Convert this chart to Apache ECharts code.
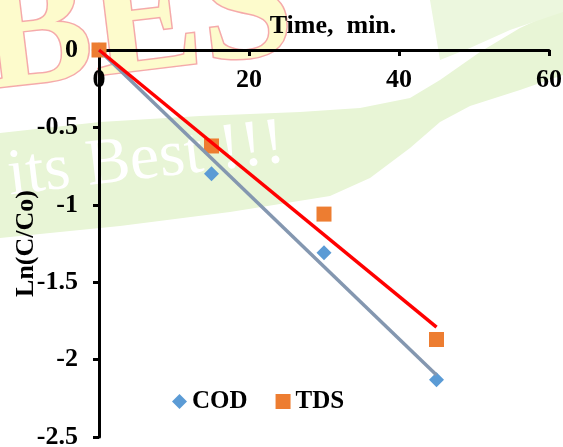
<!DOCTYPE html>
<html>
<head>
<meta charset="utf-8">
<script src="https://cdn.jsdelivr.net/npm/echarts@6/dist/echarts.min.js"></script>
<style>html,body{margin:0;padding:0;background:#fff}#c{width:563px;height:447px}</style>
</head>
<body>
<div id="c"></div>
<script>
var timeMin = [0, 15, 30, 45];
var codValues = [0, -0.80, -1.31, -2.13];
var tdsValues = [0, -0.62, -1.06, -1.87];
var codTrend = [[0, 0], [45, -2.10]];
var tdsTrend = [[0, 0], [45, -1.79]];
var xTicks = [0, 20, 40, 60];
var yTicks = [0, -0.5, -1, -1.5, -2, -2.5];

var FONT = '"Liberation Serif", "Times New Roman", serif';
var chart = echarts.init(document.getElementById('c'));
chart.setOption({
  animation: false,
  backgroundColor: '#fff',
  graphic: [
    { type: 'polygon', silent: true, z: -10,
      shape: { points: [[0,133],[100,122],[200,116],[300,112],[360,108],[410,98],[440,80],[480,52],[520,28],[563,8],[563,75],[520,90],[470,106],[440,122],[410,148],[370,178],[330,196],[230,212],[120,226],[0,238]] },
      style: { fill: '#e8f5d6' } },
    { type: 'polygon', silent: true, z: -10,
      shape: { points: [[430,0],[563,0],[563,12],[510,30],[470,48],[440,60]] },
      style: { fill: '#ecf7de' } },
    { type: 'text', silent: true, z: -9, x: 12, y: 210, rotation: 0.12,
      style: { text: 'its Best !!!', font: '66px ' + FONT, fill: '#ffffff', textVerticalAlign: 'bottom' } },
    { type: 'text', silent: true, z: -9, x: -8, y: 128, rotation: 0.12,
      style: { text: 'BES', font: 'bold 165px ' + FONT, fill: '#fdfbcc', stroke: '#f5aaaa', lineWidth: 3, textVerticalAlign: 'bottom' } }
  ],
  grid: { left: 99, top: 50, right: 14, bottom: 10, containLabel: false, outerBoundsMode: 'none' },
  legend: {
    left: 167, top: 384,
    itemWidth: 15, itemHeight: 15, itemGap: 28,
    data: [{ name: 'COD', icon: 'diamond' }, { name: 'TDS', icon: 'rect' }],
    textStyle: { fontFamily: FONT, fontWeight: 'bold', fontSize: 25, color: '#000' }
  },
  xAxis: {
    type: 'value', position: 'top', min: 0, max: 60, interval: 20,
    name: 'Time,  min.', nameLocation: 'middle', nameGap: 11,
    nameTextStyle: { fontFamily: FONT, fontWeight: 'bold', fontSize: 26, color: '#000', padding: [0, 0, 0, 18] },
    axisLine: { lineStyle: { color: '#000', width: 3 } },
    axisTick: { inside: true, length: 6, lineStyle: { color: '#000', width: 3 } },
    axisLabel: { inside: true, margin: 17, fontFamily: FONT, fontWeight: 'bold', fontSize: 26, color: '#000',
      formatter: function (v) { return xTicks.indexOf(v) >= 0 ? String(v) : ''; } },
    splitLine: { show: false }
  },
  yAxis: {
    type: 'value', min: -2.5, max: 0, interval: 0.5,
    name: 'Ln(C/Co)', nameLocation: 'middle', nameGap: 60, nameRotate: 90, nameMoveOverlap: false,
    nameTextStyle: { fontFamily: FONT, fontWeight: 'bold', fontSize: 26, color: '#000' },
    axisLine: { onZero: false, lineStyle: { color: '#000', width: 3 } },
    axisTick: { length: 6, lineStyle: { color: '#000', width: 3 } },
    axisLabel: { margin: 21, fontFamily: FONT, fontWeight: 'bold', fontSize: 26, color: '#000',
      formatter: function (v) { return yTicks.indexOf(v) >= 0 ? String(v) : ''; } },
    splitLine: { show: false }
  },
  series: [
    { name: 'COD', type: 'scatter', symbol: 'diamond', symbolSize: 15, z: 2,
      itemStyle: { color: '#5b9bd5', opacity: 1 },
      data: timeMin.map(function (t, i) { return [t, codValues[i]]; }) },
    { name: 'TDS', type: 'scatter', symbol: 'rect', symbolSize: 15, z: 2,
      itemStyle: { color: '#ed7d31', opacity: 1 },
      data: timeMin.map(function (t, i) { return [t, tdsValues[i]]; }) },
    { name: 'COD trend', type: 'line', showSymbol: false, z: 3,
      lineStyle: { color: '#8497b0', width: 3.5 }, data: codTrend },
    { name: 'TDS trend', type: 'line', showSymbol: false, z: 3,
      lineStyle: { color: '#ff0000', width: 3.5 }, data: tdsTrend }
  ]
});
</script>
</body>
</html>
